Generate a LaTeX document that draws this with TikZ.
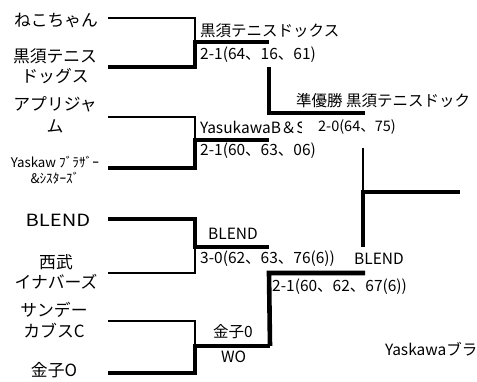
\documentclass[tikz,border=0pt]{standalone}
\usepackage{fontspec}
\setmainfont{Noto Sans CJK JP}
\newfontfamily\widelatin[FakeStretch=1.2]{Noto Sans CJK JP}
\begin{document}
\begin{tikzpicture}[x=1pt,y=-1pt,
  thinln/.style={line width=1.6pt},
  heavyln/.style={line width=4.6pt},
  team/.style={font=\fontsize{16.8}{20.5}\selectfont, inner sep=0pt, align=center},
  smallteam/.style={font=\fontsize{13.3}{16}\selectfont, inner sep=0pt, align=center},
  lbl/.style={font=\fontsize{15.5}{17}\selectfont, inner sep=0pt, anchor=west},
  plbl/.style={font=\fontsize{14.5}{16}\selectfont, inner sep=0pt, anchor=west},
  ]
\useasboundingbox (0,0) rectangle (477,382);
\clip (0,0) rectangle (477,382);
% team names
\node[team] (t1) at (56,20) {ねこちゃん};
\node[team] (t2) at (55,66) {黒須テニス\\ドッグス};
\node[team] (t3) at (55,115) {アプリジャ\\[1.5pt]ム};
\node[smallteam] (t4) at (55,170) {Yaskaw ﾌﾞﾗｻﾞｰ\\\&ｼｽﾀｰｽﾞ};
\node[team] (t5) at (58,220) {\widelatin BLEND};
\node[team] (t6) at (56,272) {西武\\イナバーズ};
\node[team] (t7) at (54,320) {サンデー\\カブスC};
\node[team] (t8) at (54,370) {金子O};
% coordinates
\coordinate (a1) at (108,18);  \coordinate (b1) at (195,18);
\coordinate (a2) at (108,67);  \coordinate (b2) at (195,67);
\coordinate (m1) at (195,42);  \coordinate (w1) at (269,42);
\coordinate (a3) at (108,117); \coordinate (b3) at (195,117);
\coordinate (a4) at (108,168); \coordinate (b4) at (195,168);
\coordinate (m2) at (195,140); \coordinate (w2) at (269,140);
\coordinate (a5) at (108,219); \coordinate (b5) at (195,219);
\coordinate (m3) at (195,247); \coordinate (w3) at (269,247);
\coordinate (a6) at (108,273); \coordinate (b6) at (195,273);
\coordinate (a7) at (108,321); \coordinate (b7) at (195,321);
\coordinate (a8) at (108,373); \coordinate (b8) at (195,373);
\coordinate (m4) at (195,346); \coordinate (w4) at (270,346);
\coordinate (s1) at (269,67);  \coordinate (s1b) at (269,113); \coordinate (s1e) at (365,113);
\coordinate (s2) at (269,273); \coordinate (s2e) at (365,273);
\coordinate (f1) at (363,148); \coordinate (f2) at (363,192); \coordinate (f2e) at (460,192);
\coordinate (f3) at (363,247);
% round 1
\draw[thinln] (a1) -- (b1) -- (m1);
\draw[heavyln] (a2) -- (b2) -- (m1) -- (w1);
\draw[thinln] (a3) -- (b3) -- (m2);
\draw[heavyln] (a4) -- (b4) -- (m2) -- (w2);
\draw[heavyln] (a5) -- (b5) -- (m3) -- (w3);
\draw[thinln] (a6) -- (b6) -- (m3);
\draw[thinln] (a7) -- (b7) -- (m4);
\draw[heavyln] (a8) -- (b8) -- (m4) -- (w4);
% round 2
\draw[heavyln] (s1) -- (s1b) -- (s1e);
\draw[heavyln] (w4) -- (s2) -- (s2e);
% final
\draw[thinln] (f1) -- (f2);
\draw[heavyln] (f3) -- (f2) -- (f2e);
% labels
\node[lbl] (l1) at (200,31) {黒須テニスドックス};
\node[lbl] (l2) at (200,55) {2-1(64、16、61)};
\node[lbl] (l3) at (296,101) {準優勝 黒須テニスドック};
\begin{scope}
\clip (196,115) rectangle (301,142);
\node[lbl] (l4) at (200,127) {YasukawaB＆S};
\end{scope}
\node[plbl] (l5) at (318,127) {2-0(64、75)};
\node[lbl] (l6) at (200,151) {2-1(60、63、06)};
\node[lbl] (l7) at (208,234) {BLEND};
\node[lbl] (l8) at (200,259) {3-0(62、63、76(6))};
\node[lbl] (l9) at (354,259) {BLEND};
\node[lbl] (l10) at (272,287) {2-1(60、62、67(6))};
\node[lbl] (l11) at (213,332) {金子0};
\node[lbl] (l12) at (221,357) {WO};
\node[lbl] (l13) at (385,349) {Yaskawaブラ};
\end{tikzpicture}
\end{document}
